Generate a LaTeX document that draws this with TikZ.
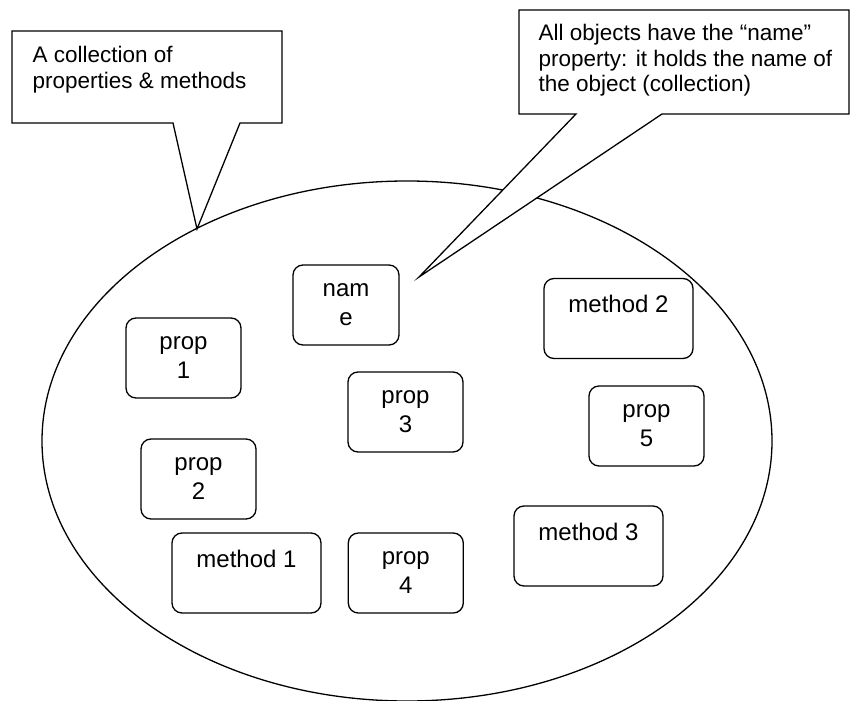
\documentclass[tikz,border=0pt]{standalone}
\usepackage{fontspec}
\setmainfont{Liberation Sans}
\usetikzlibrary{positioning}

\begin{document}
\begin{tikzpicture}[x=1pt,y=-1pt,line width=1.3pt,
    every node/.style={font=\fontsize{24}{29}\selectfont},
    member/.style={draw,rounded corners=10pt,minimum width=115pt,minimum height=80pt,align=center,inner sep=0pt},
    method/.style={member,minimum width=149pt},
    note/.style={draw,fill=white,line join=miter},
    notetext/.style={anchor=north west,align=left,inner sep=0pt,font=\fontsize{22.5}{25.5}\selectfont}]
    \useasboundingbox (0,0) rectangle (852,701);
    % the object itself
    \draw (407,441) ellipse [x radius=365pt,y radius=260pt];
    % callouts
    \draw[note] (12,31) -- (282,31) -- (282,123) -- (240,123) -- (197,229) -- (173,123) -- (12,123) -- cycle;
    \node[notetext] (collnote) at (32,46) {A collection of\\properties \& methods};
    \draw[note] (519,10) -- (849,10) -- (849,114) -- (662,114) -- (419,277) -- (576,114) -- (519,114) -- cycle;
    \node[notetext] (namenote) at (538,24) {All objects have the “name”\\property: it holds the name of\\the object (collection)};
    % members
    \node[member,minimum width=106pt] (name) at (346,305) {nam\\e};
    \node[member] (prop1) at (183.5,358) {prop\\1};
    \node[member] (prop2) at (198.5,479) {prop\\2};
    \node[member] (prop3) at (405.5,412) {prop\\3};
    \node[method] (method1) at (246.5,573) {method 1\\~};
    \node[member,right=26pt of method1] (prop4) {prop\\4};
    \node[method] (method2) at (618.5,318.5) {method 2\\~};
    \node[member] (prop5) at (646.5,426) {prop\\5};
    \node[method] (method3) at (588.5,546) {method 3\\~};
\end{tikzpicture}
\end{document}
